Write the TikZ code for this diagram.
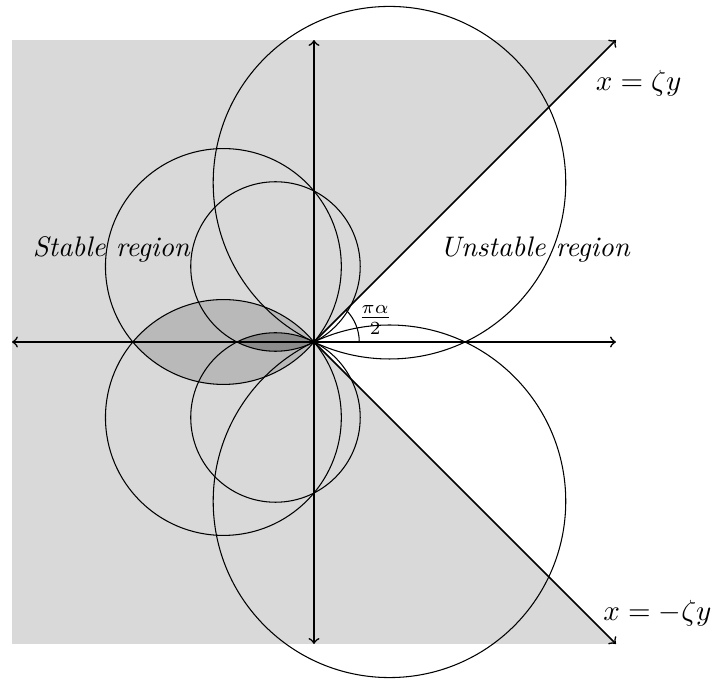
\documentclass[tikz,border=0pt]{standalone}
\usetikzlibrary{calc}
\begin{document}
\begin{tikzpicture}[
  circ/.style={line width=0.4pt},
  axis/.style={semithick,<->},
  ray/.style={semithick,->},
  lbl/.style={inner sep=1pt,font=\fontsize{10.65}{13}\selectfont}
]
\useasboundingbox (-4.159,-4.464) rectangle (5.272,4.53);
\coordinate (O) at (0,0);
\coordinate (L) at (-4,0);
\coordinate (R) at (4,0);
\coordinate (T) at (0,4);
\coordinate (B) at (0,-4);
\coordinate (UR) at (4,4);
\coordinate (DR) at (4,-4);
\coordinate (BL) at (-4,-4);
\coordinate (TL) at (-4,4);
\coordinate (CLu) at (1,2.11);
\coordinate (CLd) at (1,-2.11);
\coordinate (CMu) at (-1.2,1);
\coordinate (CMd) at (-1.2,-1);
\coordinate (CSu) at (-0.51,1);
\coordinate (CSd) at (-0.51,-1);
% gray region
\fill[gray!30] (BL) -- (DR) -- (O) -- (UR) -- (TL) -- cycle;
% lens of medium circles
\begin{scope}
  \clip (CMu) circle (1.5620);
  \fill[gray!55] (CMd) circle (1.5620);
\end{scope}
% lens of small circles
\begin{scope}
  \clip (CSu) circle (1.12254);
  \fill[gray!90] (CSd) circle (1.12254);
\end{scope}
% circles
\draw[circ] (CLu) circle (2.33497);
\draw[circ] (CLd) circle (2.33497);
\draw[circ] (CMu) circle (1.5620);
\draw[circ] (CMd) circle (1.5620);
\draw[circ] (CSu) circle (1.12254);
\draw[circ] (CSd) circle (1.12254);
% axes
\draw[axis] (L) -- (R);
\draw[axis] (B) -- (T);
% rays
\draw[ray] (O) -- (UR);
\draw[ray] (O) -- (DR);
% angle
\draw[circ] (0.6,0) arc[start angle=0,end angle=45,radius=0.6];
\node[lbl] (ang) at (0.81,0.29) {$\frac{\pi\alpha}{2}$};
% labels
\node[lbl] (zp) at (4.30,3.43) {$x=\zeta y$};
\node[lbl] (zm) at (4.55,-3.59) {$x=-\zeta y$};
\node[lbl] (st) at (-2.68,1.22) {\textit{Stable region}};
\node[lbl] (un) at (2.93,1.22) {\textit{Unstable region}};
\end{tikzpicture}
\end{document}
